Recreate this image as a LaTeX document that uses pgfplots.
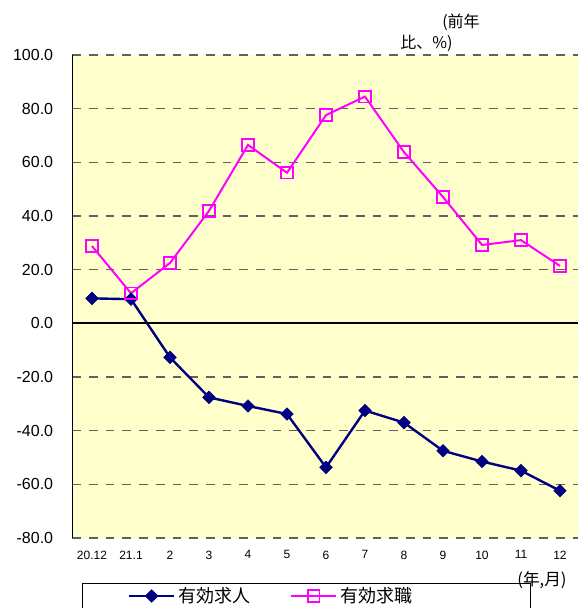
\documentclass[border=0pt]{standalone}
\usepackage{pgfplots}
\pgfplotsset{compat=1.18}
\usepackage{fontspec}
\setmainfont{Liberation Sans}
\newfontfamily\cjk{Noto Sans CJK JP}
\newlength\pu \setlength\pu{0.75pt}
\definecolor{bgyel}{HTML}{FFFFCC}
\definecolor{navy}{HTML}{000080}
\definecolor{mag}{HTML}{FF00FF}
\definecolor{gridg}{HTML}{606060}
\begin{document}
\begin{tikzpicture}
\path[use as bounding box] (0,0) rectangle (578\pu,608\pu);
\begin{axis}[
  at={(72.5\pu,70\pu)}, anchor=south west,
  scale only axis, width=507\pu, height=483\pu,
  xmin=-0.5, xmax=12.5, ymin=-80, ymax=100,
  axis background/.style={fill=bgyel},
  axis y line*=left, axis x line*=bottom,
  x axis line style={draw=none},
  y axis line style={black, line width=1.1pt},
  major tick length=0pt,
  ytick={-80,-60,-40,-20,0,20,40,60,80,100},
  yticklabels={-80.0,-60.0,-40.0,-20.0,0.0,20.0,40.0,60.0,80.0,100.0},
  yticklabel style={font=\fontsize{12}{12}\selectfont, xshift=-11pt},
  xtick={0,...,12},
  xticklabels={20.12,21.1,2,3,4,5,6,7,8,9,10,11,12},
  xticklabel style={font=\fontsize{9}{9}\selectfont, yshift=-6pt},
  ymajorgrids,
  grid style={gridg, line width=1.1pt, dash pattern=on 6.5pt off 6pt},
  legend columns=2,
  legend style={at={(0.0187,-0.0932)}, anchor=north west, draw=black, fill=white,
    line width=0.6pt, inner xsep=34pt, inner ysep=1pt, cells={anchor=west},
    nodes={inner sep=2pt, font=\cjk\fontsize{13.5}{14}\selectfont}},
  legend image code/.code={\draw[mark repeat=2,mark phase=2,#1] plot coordinates {(0pt,0pt)(17pt,0pt)(34pt,0pt)};},
]
\addplot[navy, line width=1.8pt, mark=square*, mark size=3.3pt, mark options={solid, rotate=45, fill=navy, line width=0.5pt}]
 coordinates {(0,9.3) (1,9.0) (2,-12.7) (3,-27.6) (4,-30.8) (5,-33.8) (6,-53.7) (7,-32.5) (8,-37.0) (9,-47.5) (10,-51.5) (11,-54.9) (12,-62.4)};
\addlegendentry{\makebox[82pt][l]{有効求人}}
\addplot[mag, line width=1.5pt, mark=square, mark size=4.4pt, mark options={solid, line width=1.2pt, fill=none}]
 coordinates {(0,28.8) (1,11.2) (2,22.5) (3,41.9) (4,66.5) (5,56.1) (6,77.6) (7,84.5) (8,63.8) (9,47.1) (10,29.2) (11,31.0) (12,21.4)};
\addlegendentry{\makebox[107pt][l]{有効求職}}
\addplot[black, line width=1.5pt, forget plot] coordinates {(-0.5,0) (12.5,0)};
\end{axis}
\node[font=\cjk\fontsize{12.5}{13}\selectfont, inner sep=0pt] at (542\pu,28\pu) {(年,月)};
\node[font=\cjk\fontsize{12}{12}\selectfont, inner sep=0pt, anchor=west] at (442\pu,586\pu) {(前年};
\node[font=\cjk\fontsize{12}{12}\selectfont, inner sep=0pt, anchor=west] at (400\pu,565\pu) {比、\%)};
\end{tikzpicture}
\end{document}
